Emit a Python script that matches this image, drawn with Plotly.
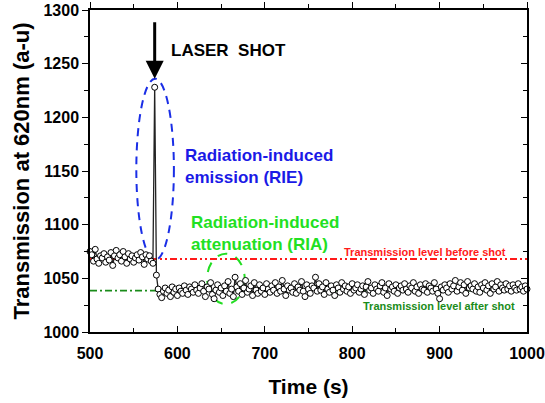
import plotly.graph_objects as go

# ---- data ----
time_start, time_step = 500, 2
pre_shot = [1075, 1072, 1066, 1077, 1068, 1064, 1071, 1069, 1073, 1065,
            1070, 1067, 1074, 1062, 1071, 1076, 1069, 1072, 1066, 1075,
            1070, 1064, 1073, 1068, 1071, 1065, 1069, 1072, 1067, 1074,
            1070, 1063, 1072, 1068, 1071, 1066, 1064]
shot = [1228, 1053]
post_shot = [
    1040, 1035, 1032, 1038, 1041, 1036, 1039, 1033, 1042, 1037, 1040, 1034, 1041, 1038, 1036, 1043, 1039, 1035, 1042, 1040,
    1037, 1044, 1039, 1036, 1041, 1045, 1038, 1033, 1042, 1040, 1046, 1035, 1031, 1039, 1044, 1037, 1041, 1034, 1043, 1038,
    1047, 1036, 1040, 1033, 1051, 1042, 1038, 1045, 1035, 1041, 1048, 1037, 1040, 1043, 1034, 1046, 1039, 1036, 1044, 1038,
    1041, 1035, 1045, 1040, 1037, 1043, 1039, 1046, 1036, 1042, 1038, 1048, 1040, 1034, 1043, 1039, 1041, 1037, 1045, 1036,
    1042, 1039, 1047, 1038, 1033, 1044, 1040, 1036, 1043, 1041, 1051, 1038, 1045, 1039, 1042, 1035, 1046, 1040, 1037, 1043,
    1039, 1034, 1044, 1041, 1037, 1046, 1040, 1043, 1038, 1042, 1036, 1045, 1039, 1041, 1044, 1037, 1040, 1043, 1035, 1042,
    1047, 1039, 1041, 1036, 1044, 1040, 1038, 1043, 1046, 1037, 1041, 1034, 1045, 1040, 1042, 1038, 1044, 1036, 1041, 1043,
    1039, 1045, 1040, 1037, 1043, 1041, 1046, 1038, 1042, 1036, 1044, 1040, 1039, 1045, 1037, 1043, 1041, 1038, 1046, 1040,
    1036, 1031, 1042, 1039, 1044, 1041, 1037, 1045, 1040, 1043, 1048, 1038, 1042, 1046, 1039, 1044, 1036, 1047, 1041, 1043,
    1040, 1045, 1038, 1042, 1037, 1044, 1041, 1046, 1039, 1043, 1036, 1045, 1040, 1042, 1047, 1038, 1044, 1041, 1039, 1045,
    1040, 1043, 1038, 1044, 1041, 1039, 1045, 1040, 1042, 1038, 1043, 1040]
transmission = pre_shot + shot + post_shot
time = [time_start + time_step * i for i in range(len(transmission))]

level_before = 1068
level_after = 1038.5
shot_time = 574
x_range = [500, 1000]
y_range = [1000, 1300]
x_ticks = [500, 600, 700, 800, 900, 1000]
y_ticks = [1000, 1050, 1100, 1150, 1200, 1250, 1300]

FONT = "Liberation Sans"

fig = go.Figure()

# reference levels
fig.add_trace(go.Scatter(x=x_range, y=[level_before, level_before], mode="lines",
                         line=dict(color="#ff1a1a", width=1.8, dash="7px,3px,2px,3px,2px,3px"),
                         hoverinfo="skip", showlegend=False))
fig.add_trace(go.Scatter(x=x_range, y=[level_after, level_after], mode="lines",
                         line=dict(color="#1a8c1a", width=1.8, dash="7px,3px,2px,3px"),
                         hoverinfo="skip", showlegend=False))

# data
fig.add_trace(go.Scatter(x=time, y=transmission, mode="lines+markers",
                         line=dict(color="#222222", width=1.3),
                         marker=dict(symbol="circle", size=6, color="white",
                                     line=dict(color="black", width=1)),
                         cliponaxis=False, showlegend=False))

# dummy trace for top/right mirror axes
fig.add_trace(go.Scatter(x=[None], y=[None], xaxis="x2", yaxis="y2", showlegend=False,
                         hoverinfo="skip"))

# ellipses
fig.add_shape(type="circle", xref="x", yref="y", x0=553, x1=596, y0=1067, y1=1236,
              line=dict(color="#1a2ee6", width=2, dash="8px,6px"), layer="below")
fig.add_shape(type="circle", xref="x", yref="y", x0=634, x1=677, y0=1026, y1=1073,
              line=dict(color="#22dd22", width=2, dash="10px,9px"), layer="below")

# arrow
fig.add_annotation(x=shot_time, y=1236, ax=shot_time, ay=1290, axref="x", ayref="y",
                   xref="x", yref="y", text="", showarrow=True, arrowhead=2,
                   arrowwidth=3, arrowsize=1.2, arrowcolor="black")

# texts
fig.add_annotation(x=590.5, y=1262.7, xref="x", yref="y", text="LASER\u00a0\u00a0SHOT",
                   showarrow=False, xanchor="left", yanchor="middle",
                   font=dict(family=FONT, size=17, color="black", weight="bold"))
fig.add_annotation(x=606, y=1154.5, xref="x", yref="y",
                   text="Radiation-induced<br>emission (RIE)", align="left",
                   showarrow=False, xanchor="left", yanchor="middle",
                   font=dict(family=FONT, size=17, color="#1a1ae6", weight="bold"))
fig.add_annotation(x=613.5, y=1092, xref="x", yref="y",
                   text="Radiation-induced<br>attenuation (RIA)", align="left",
                   showarrow=False, xanchor="left", yanchor="middle",
                   font=dict(family=FONT, size=17, color="#22e022", weight="bold"))
fig.add_annotation(x=978, y=1074.5, xref="x", yref="y",
                   text="Transmission level before shot",
                   showarrow=False, xanchor="right", yanchor="middle",
                   font=dict(family=FONT, size=11, color="#ff1a1a", weight="bold"))
fig.add_annotation(x=988, y=1024.5, xref="x", yref="y",
                   text="Transmission level after shot",
                   showarrow=False, xanchor="right", yanchor="middle",
                   font=dict(family=FONT, size=11, color="#1a8c1a", weight="bold"))

tickfont = dict(family=FONT, size=16, color="black", weight="bold")

fig.update_layout(
    width=545, height=403,
    margin=dict(l=90, r=18, t=10, b=71, autoexpand=False),
    paper_bgcolor="white", plot_bgcolor="white",
    showlegend=False,
    xaxis=dict(range=x_range, tickvals=x_ticks, ticks="inside", ticklen=6, tickwidth=1.3,
               tickcolor="black", showline=True, linecolor="black", linewidth=1.5,
               showgrid=False, zeroline=False, tickfont=tickfont, ticklabelstandoff=6,
               minor=dict(dtick=50, ticks="inside", ticklen=4, tickcolor="black", showgrid=False),
               title=dict(text="Time (s)", standoff=18,
                          font=dict(family=FONT, size=21, color="black", weight="bold"))),
    yaxis=dict(range=y_range, tickvals=y_ticks, ticks="outside", ticklen=6, tickwidth=1.3,
               tickcolor="black", showline=True, linecolor="black", linewidth=1.5,
               showgrid=False, zeroline=False, tickfont=tickfont,
               minor=dict(dtick=25, ticks="outside", ticklen=4, tickcolor="black", showgrid=False),
               title=dict(text="Transmission at 620nm (a-u)", standoff=8,
                          font=dict(family=FONT, size=22, color="black", weight="bold"))),
    xaxis2=dict(range=x_range, overlaying="x", side="top", anchor="y", tickvals=x_ticks,
                ticks="outside", ticklen=6, tickwidth=1.3, tickcolor="black",
                showline=True, linecolor="black", linewidth=1.5, showticklabels=False,
                showgrid=False, zeroline=False,
                minor=dict(dtick=50, ticks="outside", ticklen=4, tickcolor="black", showgrid=False)),
    yaxis2=dict(range=y_range, overlaying="y", side="right", anchor="x", tickvals=y_ticks,
                ticks="inside", ticklen=6, tickwidth=1.3, tickcolor="black",
                showline=True, linecolor="black", linewidth=1.5, showticklabels=False,
                showgrid=False, zeroline=False,
                minor=dict(dtick=25, ticks="inside", ticklen=4, tickcolor="black", showgrid=False)),
)

# remove the default page margin so the figure sits at the window's top-left corner
fig.write_html("out.html", config={"displayModeBar": False},
               post_script="document.body.style.margin='0px';document.body.style.overflow='hidden';")
